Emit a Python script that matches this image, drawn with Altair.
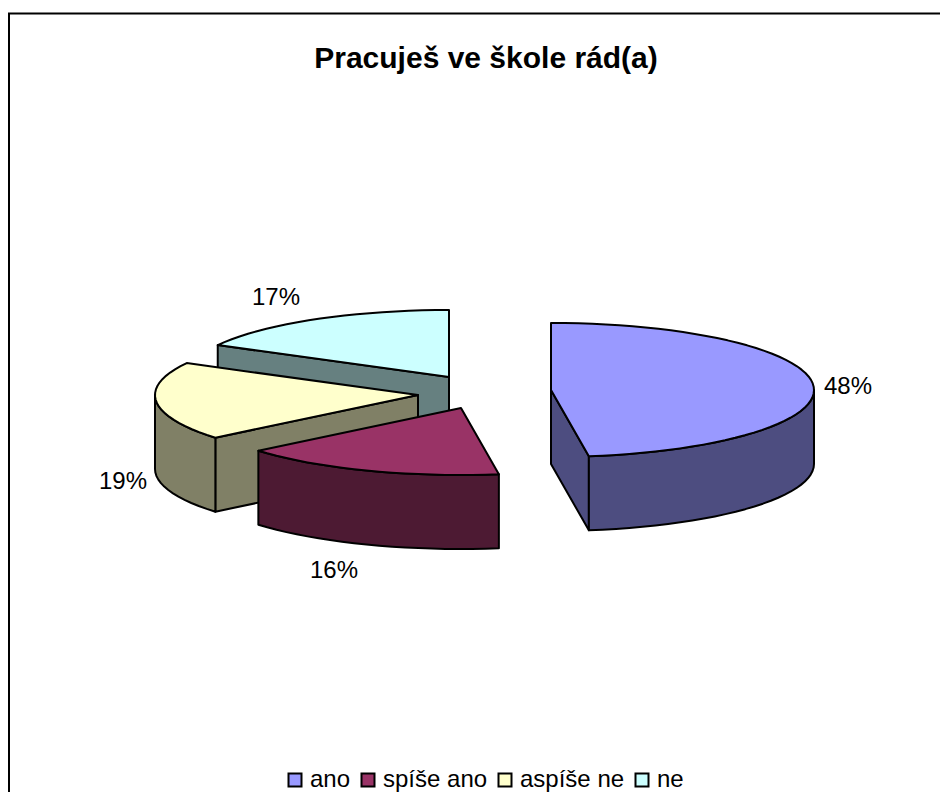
import math
import altair as alt

TITLE = "Pracuješ ve škole rád(a)"
categories = ["ano", "spíše ano", "aspíše ne", "ne"]
shares = [47.7, 16.3, 18.9, 17.1]
labels = ["48%", "16%", "19%", "17%"]
top_colors = ["#9999FF", "#993366", "#FFFFCC", "#CCFFFF"]
side_colors = ["#4D4D80", "#4D1A33", "#808066", "#668080"]

# slice geometry (page pixels minus the 8px margin)
apex_x = [543, 453, 410, 441]
apex_y = [382, 400, 387, 369]
label_x = [840, 326, 115, 268]
label_y = [379, 563, 474, 290]
RX, RY, DEPTH, STEP = 263, 67, 74, 3.0


def rim(i, a0, a1):
    n = max(1, int(round((a1 - a0) / STEP)))
    pts = []
    for k in range(n + 1):
        a = math.radians(a0 + (a1 - a0) * k / n)
        pts.append([apex_x[i] + RX * math.sin(a), apex_y[i] - RY * math.cos(a)])
    return pts


def feature(part, ring):
    ring = [[round(x, 2), round(y, 2)] for x, y in ring]
    return {"type": "Feature", "properties": {"part": part},
            "geometry": {"type": "Polygon", "coordinates": [ring + [ring[0]]]}}


bounds = [0]
for s in shares:
    bounds.append(bounds[-1] + s * 3.6)

faces = []
for i in [3, 2, 1, 0]:
    a0, a1 = bounds[i], bounds[i + 1]
    name, side = categories[i], categories[i] + " (bok)"
    apex = [apex_x[i], apex_y[i]]
    arc = rim(i, a0, a1)
    # the cut face that looks towards the viewer
    cut = {0: arc[-1], 2: arc[0], 3: arc[0]}.get(i)
    if cut is not None:
        faces.append(feature(side, [apex, cut, [cut[0], cut[1] + DEPTH],
                                    [apex[0], apex[1] + DEPTH]]))
    # the visible part of the outer wall
    lo, hi = max(a0, 90), min(a1, 270)
    if lo < hi:
        wall = rim(i, lo, hi)
        faces.append(feature(side, wall + [[x, y + DEPTH] for x, y in reversed(wall)]))
    faces.append(feature(name, [apex] + arc))

domain = categories + [c + " (bok)" for c in categories]
colors = top_colors + side_colors

pie = alt.Chart(alt.Data(values=faces)).mark_geoshape(
    stroke="black", strokeWidth=2, strokeJoin="round"
).encode(
    fill=alt.Fill(
        "properties.part:N",
        scale=alt.Scale(domain=domain, range=colors),
        legend=alt.Legend(
            title=None, values=categories, orient="none", direction="horizontal",
            columns=4, gridAlign="none", legendX=275, legendY=760,
            symbolType="square", symbolSize=169, symbolStrokeColor="black",
            symbolStrokeWidth=2, symbolOpacity=1, labelFont="Liberation Sans",
            labelFontSize=24, labelColor="black", labelOffset=3, columnPadding=5,
            labelLimit=0,
        ),
    )
).project(type="identity", scale=1, translate=[0, 0])

label_data = alt.Data(values=[
    {"t": t, "x": x, "y": y} for t, x, y in zip(labels, label_x, label_y)
])
texts = alt.Chart(label_data).mark_text(
    font="Liberation Sans", fontSize=24, color="black"
).encode(
    x=alt.X("x:Q", scale=None, axis=None),
    y=alt.Y("y:Q", scale=None, axis=None),
    text="t:N",
)

frame_top = alt.Chart(alt.Data(values=[{}])).mark_rule(color="black", strokeWidth=2).encode(
    x=alt.value(0), x2=alt.value(932), y=alt.value(5.5))
frame_left = alt.Chart(alt.Data(values=[{}])).mark_rule(color="black", strokeWidth=2).encode(
    x=alt.value(1), y=alt.value(5), y2=alt.value(784))

chart = (frame_top + frame_left + pie + texts).properties(
    width=932, height=784, padding=0,
    autosize=alt.AutoSizeParams(type="none"),
    background="white",
    title=alt.TitleParams(
        TITLE, font="Liberation Sans", fontSize=30, fontWeight="bold", color="black",
        anchor="middle", frame="group", baseline="middle", offset=0, dx=12, dy=81,
    ),
).configure_view(stroke=None)

chart.save("out.html", embed_options={"renderer": "svg", "actions": False})
